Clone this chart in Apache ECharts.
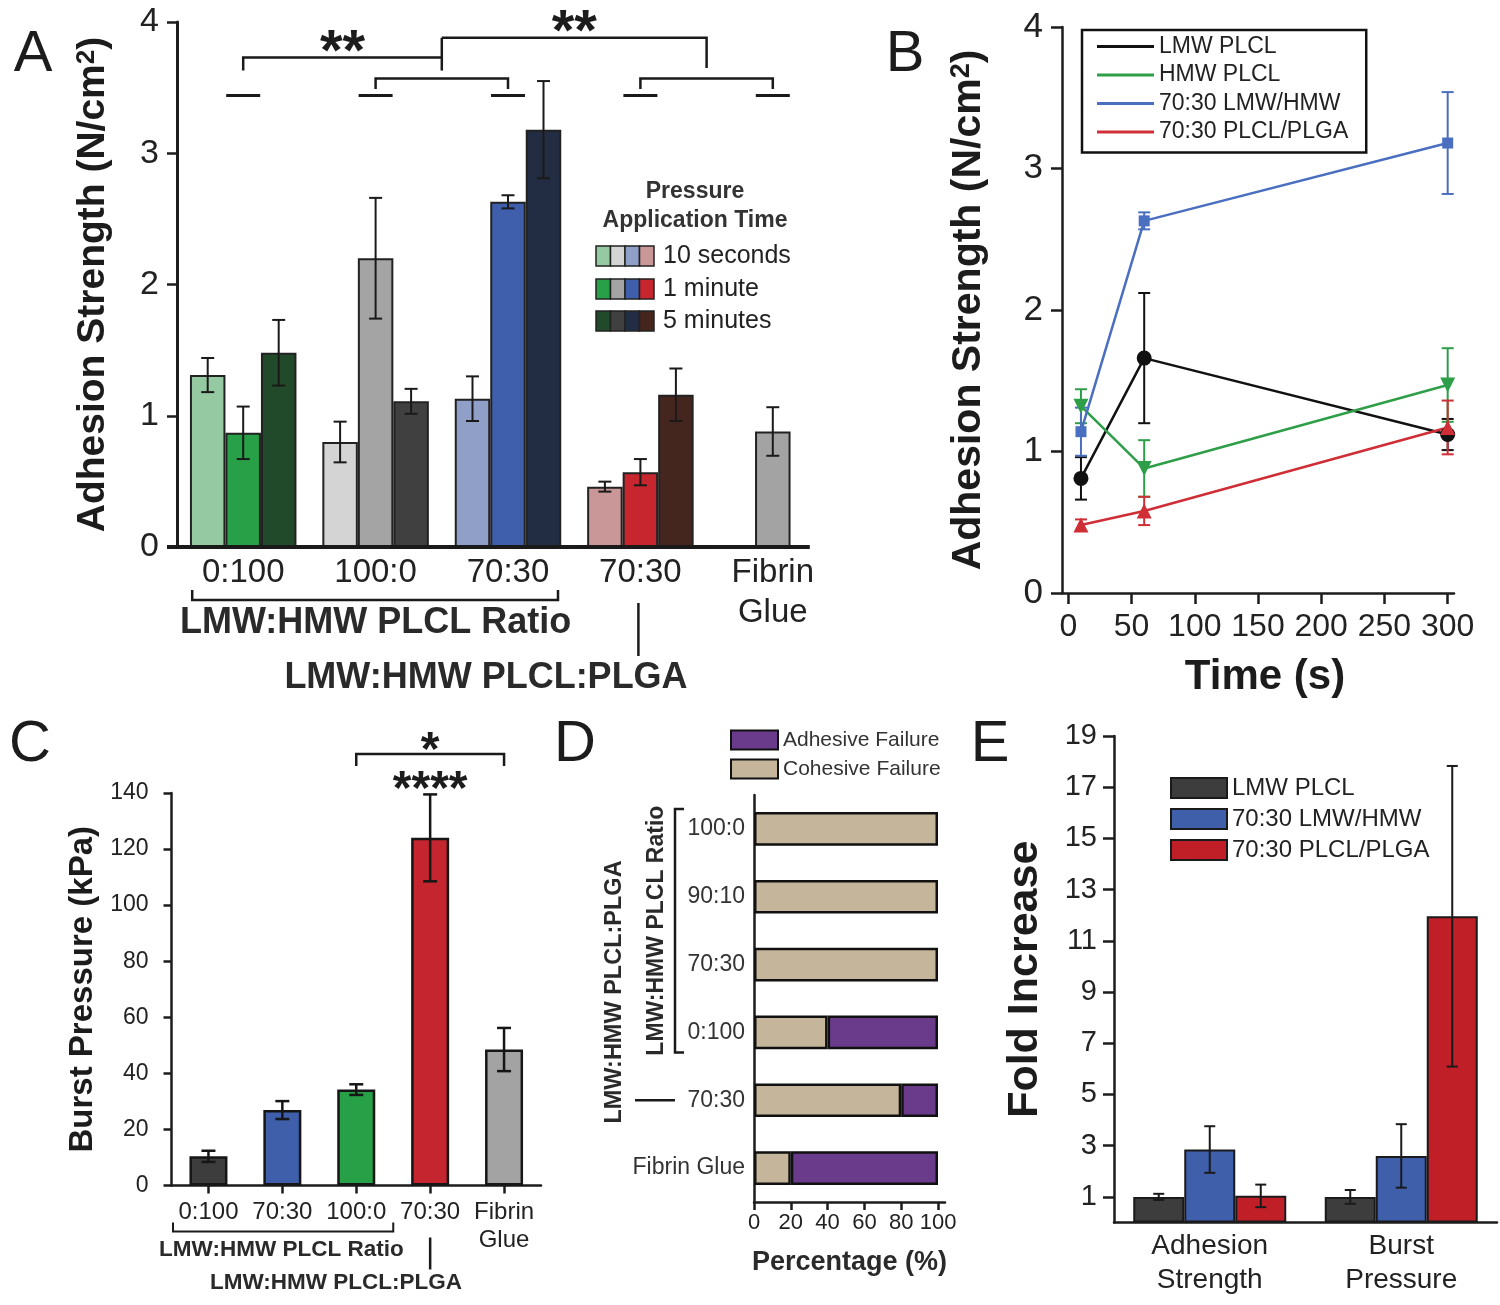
<!DOCTYPE html>
<html><head><meta charset="utf-8">
<script src="https://cdn.jsdelivr.net/npm/echarts@6/dist/echarts.min.js"></script>
<style>html,body{margin:0;padding:0;background:#fff}#c{width:1500px;height:1305px}</style>
</head><body><div id="c"></div>
<script>
// ---------------- DATA ----------------
// Panel A: adhesion strength (N/cm2) by LMW:HMW ratio and pressure application time
const aCategories = ['0:100', '100:0', '70:30', '70:30', 'Fibrin\nGlue'];
const aTimeNames = ['10 seconds', '1 minute', '5 minutes'];
const a10s = [1.31, 0.80, 1.13, 0.46, null];
const a10sErr = [0.13, 0.155, 0.17, 0.038, null];
const a1min = [0.87, 2.20, 2.63, 0.57, 0.88];
const a1minErr = [0.20, 0.46, 0.05, 0.10, 0.185];
const a5min = [1.48, 1.11, 3.18, 1.16, null];
const a5minErr = [0.25, 0.095, 0.37, 0.20, null];
const aYTicks = [0, 1, 2, 3, 4];

// Panel B: adhesion strength vs time
const bTimes = [10, 60, 300];
const bNames = ['LMW PLCL', 'HMW PLCL', '70:30 LMW/HMW', '70:30 PLCL/PLGA'];
const bLMW = [0.81, 1.66, 1.12];
const bLMWErr = [0.15, 0.46, 0.11];
const bHMW = [1.32, 0.88, 1.47];
const bHMWErr = [0.12, 0.20, 0.26];
const bBlend = [1.14, 2.63, 3.18];
const bBlendErr = [0.17, 0.06, 0.36];
const bPLGA = [0.48, 0.58, 1.17];
const bPLGAErr = [0.04, 0.10, 0.19];
const bXTicks = [0, 50, 100, 150, 200, 250, 300];

// Panel C: burst pressure (kPa)
const cCategories = ['0:100', '70:30', '100:0', '70:30', 'Fibrin\nGlue'];
const cValues = [10.4, 26.9, 34.2, 124.0, 48.5];
const cErr = [2.0, 3.2, 1.9, 15.5, 7.7];

// Panel D: failure mode (%)
const dCategories = ['100:0', '90:10', '70:30', '0:100', '70:30', 'Fibrin Glue'];
const dNames = ['Adhesive Failure', 'Cohesive Failure'];
const dCohesive = [100, 100, 100, 40, 80, 20];
const dAdhesive = [0, 0, 0, 60, 20, 80];
const dXTicks = [0, 20, 40, 60, 80, 100];

// Panel E: fold increase
const eCategories = ['Adhesion\nStrength', 'Burst\nPressure'];
const eNames = ['LMW PLCL', '70:30 LMW/HMW', '70:30 PLCL/PLGA'];
const eLMW = [1.0, 1.0];
const eLMWErr = [0.12, 0.27];
const eBlend = [2.85, 2.60];
const eBlendErr = [0.91, 1.24];
const ePLGA = [1.04, 11.96];
const ePLGAErr = [0.44, 5.87];
const eYTicks = [1, 3, 5, 7, 9, 11, 13, 15, 17, 19];

// ---------------- STYLE ----------------
const FONT = '"Liberation Sans", Arial, Helvetica, sans-serif';
const INK = '#1c1c1c';
const aColors10s = ['#94c9a1', '#d4d4d4', '#8f9fc7', '#c99797', null];
const aColors1min = ['#27a048', '#a4a4a4', '#3f5fac', '#c8262f', '#a3a3a3'];
const aColors5min = ['#204a29', '#404040', '#222d43', '#45261f', null];
const bColors = ['#111111', '#2e9e48', '#4a6ec0', '#cf2e36'];
const cColors = ['#3d3d3d', '#3f5fab', '#27a048', '#c5252e', '#a3a3a3'];
const dColors = {adh: '#6a3b8a', coh: '#c5b69b'};
const eColors = ['#3d3d3d', '#3f5fab', '#c01f28'];

const gA = {left: 177, top: 22, width: 662, height: 525};
const gB = {left: 1062, top: 27, width: 392, height: 566};
const gC = {left: 171.5, top: 793, width: 369.5, height: 392.5};
const gD = {left: 754, top: 795, width: 191, height: 407};
const gE = {left: 1114, top: 736, width: 383, height: 486.5};

const chart = echarts.init(document.getElementById('c'), null, {renderer: 'canvas', width: 1500, height: 1305});

function grid(g) { return Object.assign({outerBoundsMode: 'none', containLabel: false, show: false}, g); }
function aLine(w) { return {show: true, onZero: false, lineStyle: {color: INK, width: w}}; }
function txt(size, extra) { return Object.assign({fontFamily: FONT, fontSize: size, color: INK}, extra || {}); }
function supName(size) {
  return txt(size, {fontWeight: 'bold', rich: {
    m: {fontFamily: FONT, fontSize: size, fontWeight: 'bold', color: INK},
    s: {fontFamily: FONT, fontSize: Math.round(size * 0.66), fontWeight: 'bold', color: INK, verticalAlign: 'top'}
  }});
}

function errData(vals, errs, xs) {
  const out = [];
  vals.forEach((v, i) => { if (v != null) out.push([xs ? xs[i] : i, v, errs[i]]); });
  return out;
}
function errSeries(xi, yi, data, offset, cap, color, lw, z) {
  return {
    type: 'custom', xAxisIndex: xi, yAxisIndex: yi, z: z, silent: true, data: data,
    encode: {x: 0, y: 1},
    renderItem: function (params, api) {
      const x = api.value(0), v = api.value(1), e = api.value(2);
      const hi = api.coord([x, v + e]), lo = api.coord([x, v - e]);
      const cx = hi[0] + offset;
      const st = {stroke: color, lineWidth: lw};
      return {type: 'group', children: [
        {type: 'line', shape: {x1: cx, y1: hi[1], x2: cx, y2: lo[1]}, style: st},
        {type: 'line', shape: {x1: cx - cap, y1: hi[1], x2: cx + cap, y2: hi[1]}, style: st},
        {type: 'line', shape: {x1: cx - cap, y1: lo[1], x2: cx + cap, y2: lo[1]}, style: st}
      ]};
    }
  };
}
function coloredBars(vals, colors) {
  return vals.map((v, i) => v == null ? '-' : {value: v, itemStyle: {color: colors[i]}});
}

const aBarW = 35.5, eBarW = 51;
const series = [];

// ----- Panel A bars -----
[[a10s, aColors10s, a10sErr], [a1min, aColors1min, a1minErr], [a5min, aColors5min, a5minErr]].forEach((s, k) => {
  series.push({type: 'bar', name: aTimeNames[k], xAxisIndex: 0, yAxisIndex: 0,
    data: coloredBars(s[0], s[1]), barWidth: aBarW, barGap: '0%',
    itemStyle: {borderColor: '#222', borderWidth: 2}, z: 2});
  series.push(errSeries(0, 0, errData(s[0], s[2]), (k - 1) * aBarW, 6.5, '#1a1a1a', 2, 4));
});

// ----- Panel B lines -----
const bSets = [[bLMW, bLMWErr, 'circle', 15, 0], [bHMW, bHMWErr, 'triangle', 15, 180],
               [bBlend, bBlendErr, 'rect', 11, 0], [bPLGA, bPLGAErr, 'triangle', 15, 0]];
bSets.forEach((s, k) => {
  series.push(errSeries(1, 1, errData(s[0], s[1], bTimes), 0, 6, bColors[k], 2, 2));
  series.push({type: 'line', name: bNames[k], xAxisIndex: 1, yAxisIndex: 1,
    data: bTimes.map((t, i) => [t, s[0][i]]), symbol: s[2], symbolSize: s[3], symbolRotate: s[4],
    showSymbol: true, lineStyle: {color: bColors[k], width: 2.5},
    itemStyle: {color: bColors[k], borderWidth: 0}, z: 3});
});

// ----- Panel C bars -----
series.push({type: 'bar', name: 'Burst Pressure', xAxisIndex: 2, yAxisIndex: 2,
  data: coloredBars(cValues, cColors), barWidth: 38,
  itemStyle: {borderColor: '#161616', borderWidth: 2.5}, z: 2});
series.push(errSeries(2, 2, errData(cValues, cErr), 0, 7, '#161616', 2.5, 4));

// ----- Panel D stacked bars -----
series.push({type: 'bar', name: dNames[1], xAxisIndex: 3, yAxisIndex: 3, stack: 'd',
  data: dCohesive.map(v => v > 0 ? v : '-'), barWidth: 33.6,
  itemStyle: {color: dColors.coh, borderColor: '#111', borderWidth: 2.5}, z: 2});
series.push({type: 'bar', name: dNames[0], xAxisIndex: 3, yAxisIndex: 3, stack: 'd',
  data: dAdhesive.map(v => v > 0 ? v : '-'), barWidth: 33.6,
  itemStyle: {color: dColors.adh, borderColor: '#111', borderWidth: 2.5}, z: 2});

// ----- Panel E bars -----
[[eLMW, eLMWErr], [eBlend, eBlendErr], [ePLGA, ePLGAErr]].forEach((s, k) => {
  series.push({type: 'bar', name: eNames[k], xAxisIndex: 4, yAxisIndex: 4, data: s[0],
    barWidth: eBarW, barGap: '0%', itemStyle: {color: eColors[k], borderColor: '#1a1a1a', borderWidth: 2}, z: 2});
  series.push(errSeries(4, 4, errData(s[0], s[1]), (k - 1) * eBarW, 5.5, '#1a1a1a', 2, 4));
});

const yName = '{m|Adhesion Strength (N/cm}{s|2}{m|)}';

const option = {
  animation: false,
  backgroundColor: '#ffffff',
  textStyle: {fontFamily: FONT},
  grid: [grid(gA), grid(gB), grid(gC), grid(gD), grid(gE)],
  xAxis: [
    {gridIndex: 0, type: 'category', data: aCategories, axisLine: {show: false},
     axisTick: {show: false}, splitLine: {show: false},
     axisLabel: txt(33, {margin: 6, lineHeight: 40, color: '#222', interval: 0})},
    {gridIndex: 1, type: 'value', min: -5, max: 305, axisLine: aLine(2.5), splitLine: {show: false},
     axisTick: {show: true, length: 11, lineStyle: {color: INK, width: 2.5}, customValues: bXTicks},
     axisLabel: txt(32, {margin: 18, customValues: bXTicks, color: '#222'}),
     name: 'Time (s)', nameLocation: 'middle', nameGap: 63, nameMoveOverlap: false,
     nameTextStyle: txt(42, {fontWeight: 'bold', padding: [0, 0, 0, 14]})},
    {gridIndex: 2, type: 'category', data: cCategories, axisLine: aLine(2.5), splitLine: {show: false},
     axisTick: {show: true, alignWithLabel: true, length: 8, lineStyle: {color: INK, width: 2.5}},
     axisLabel: txt(24, {margin: 13, lineHeight: 28, color: '#222', interval: 0})},
    {gridIndex: 3, type: 'value', min: 0, max: 103.8, axisLine: aLine(2.5), splitLine: {show: false},
     axisTick: {show: true, length: 8, lineStyle: {color: INK, width: 2.5}, customValues: dXTicks},
     axisLabel: txt(22, {margin: 10, customValues: dXTicks, color: '#222'}),
     name: 'Percentage (%)', nameLocation: 'middle', nameGap: 47, nameMoveOverlap: false,
     nameTextStyle: txt(27, {fontWeight: 'bold', color: '#2a2a2a'})},
    {gridIndex: 4, type: 'category', data: eCategories, axisLine: aLine(2.5), splitLine: {show: false},
     axisTick: {show: false},
     axisLabel: txt(28, {margin: 7, lineHeight: 34, color: '#222', interval: 0})}
  ],
  yAxis: [
    {gridIndex: 0, type: 'value', min: 0, max: 4, interval: 1, axisLine: aLine(3), splitLine: {show: false},
     axisTick: {show: true, length: 10, lineStyle: {color: INK, width: 2.5}},
     axisLabel: txt(34, {margin: 18, color: '#222'}),
     name: yName, nameLocation: 'middle', nameGap: 64, nameMoveOverlap: false,
     nameTextStyle: supName(39)},
    {gridIndex: 1, type: 'value', min: 0, max: 4, interval: 1, axisLine: aLine(2.5), splitLine: {show: false},
     axisTick: {show: true, length: 11, lineStyle: {color: INK, width: 2.5}},
     axisLabel: txt(35, {margin: 19, color: '#222'}),
     name: yName, nameLocation: 'middle', nameGap: 73, nameMoveOverlap: false,
     nameTextStyle: supName(41)},
    {gridIndex: 2, type: 'value', min: 0, max: 140, interval: 20, axisLine: aLine(2.5), splitLine: {show: false},
     axisTick: {show: true, length: 8, lineStyle: {color: INK, width: 2.5}},
     axisLabel: txt(23, {margin: 23, color: '#222'}),
     name: 'Burst Pressure (kPa)', nameLocation: 'middle', nameGap: 72, nameMoveOverlap: false,
     nameTextStyle: txt(33, {fontWeight: 'bold'})},
    {gridIndex: 3, type: 'category', data: dCategories, inverse: true, axisLine: aLine(2.5),
     splitLine: {show: false}, axisTick: {show: false},
     axisLabel: txt(23, {margin: 9, color: '#333', interval: 0})},
    {gridIndex: 4, type: 'value', min: 0, max: 19, axisLine: aLine(2.5), splitLine: {show: false},
     axisTick: {show: true, length: 11, lineStyle: {color: INK, width: 2.5}, customValues: eYTicks},
     axisLabel: txt(29, {margin: 17, customValues: eYTicks, color: '#222'}),
     name: 'Fold Increase', nameLocation: 'middle', nameGap: 67, nameMoveOverlap: false,
     nameTextStyle: txt(43, {fontWeight: 'bold'})}
  ],
  legend: [
    {data: bNames.map((n, i) => ({name: n, icon: 'rect', itemStyle: {color: bColors[i], borderWidth: 0}})),
     orient: 'vertical', left: 1082, top: 30, itemWidth: 57, itemHeight: 3, itemGap: 5.5,
     padding: [5, 18, 9, 15], borderColor: '#111', borderWidth: 2.5, borderRadius: 0,
     backgroundColor: '#fff', selectedMode: false, textStyle: txt(23, {color: '#222'})},
    {data: dNames.map((n, i) => ({name: n, icon: 'rect',
       itemStyle: {color: i === 0 ? dColors.adh : dColors.coh, borderColor: '#111', borderWidth: 2}})),
     orient: 'vertical', left: 730, top: 729.5, itemWidth: 47, itemHeight: 19, itemGap: 8,
     padding: 0, selectedMode: false, textStyle: txt(21, {color: '#333'})},
    {data: eNames.map((n, i) => ({name: n, icon: 'rect',
       itemStyle: {color: eColors[i], borderColor: '#1a1a1a', borderWidth: 2}})),
     orient: 'vertical', left: 1170, top: 776, itemWidth: 56, itemHeight: 20, itemGap: 7,
     padding: 0, selectedMode: false, textStyle: txt(24, {color: '#222'})}
  ],
  series: series
};
chart.setOption(option);

// ---------------- ANNOTATIONS (positioned through the axes) ----------------
const P = (xi, yi, pt) => chart.convertToPixel({xAxisIndex: xi, yAxisIndex: yi}, pt);
const G = [];
const LS = {stroke: '#1a1a1a', lineWidth: 2.5, fill: null};
function poly(pts, lw) { G.push({type: 'polyline', shape: {points: pts}, style: Object.assign({}, LS, lw ? {lineWidth: lw} : {}), z: 50}); }
function text(x, y, s, size, opts) {
  opts = opts || {};
  G.push({type: 'text', x: x, y: y, rotation: opts.rot || 0, z: 50,
    style: {text: s, fontFamily: FONT, fontSize: size, fontWeight: opts.bold ? 'bold' : 'normal',
      fill: opts.color || INK, textAlign: opts.align || 'center', textVerticalAlign: 'middle',
      align: opts.align || 'center', verticalAlign: 'middle'}});
}

// Panel letters
text(33, 55, 'A', 58); text(905, 55, 'B', 58); text(30, 745, 'C', 58); text(575, 745, 'D', 58); text(990, 745, 'E', 58);

// Panel A axis line, significance and group labels
const aC = aCategories.map((_, i) => P(0, 0, [i, 0])[0]);
const yA = v => P(0, 0, [0, v])[1];
poly([[gA.left - 10, yA(0)], [aC[4] + 37, yA(0)]], 4);
aC.forEach(cx => poly([[cx - 17, yA(3.44)], [cx + 17, yA(3.44)]], 3));
const m1 = (aC[1] + aC[2]) / 2, m2 = (aC[3] + aC[4]) / 2;
poly([[aC[0], yA(3.63)], [aC[0], yA(3.73)], [m1, yA(3.73)]]);
poly([[m1, yA(3.88)], [m1, yA(3.63)]]);
poly([[aC[1], yA(3.49)], [aC[1], yA(3.57)], [aC[2], yA(3.57)], [aC[2], yA(3.49)]]);
poly([[m1, yA(3.88)], [m2, yA(3.88)], [m2, yA(3.65)]]);
poly([[aC[3], yA(3.49)], [aC[3], yA(3.57)], [aC[4], yA(3.57)], [aC[4], yA(3.49)]]);
text((aC[0] + m1) / 2, yA(3.85) + 12, '**', 58, {bold: true});
text((m1 + m2) / 2, yA(4.0) + 12, '**', 58, {bold: true});
const aBase = yA(0);
poly([[aC[0] - 51, aBase + 43], [aC[0] - 51, aBase + 53], [aC[2] + 50, aBase + 53], [aC[2] + 50, aBase + 43]]);
text((aC[0] + aC[2]) / 2, aBase + 76, 'LMW:HMW PLCL Ratio', 36, {bold: true, color: '#2a2a2a'});
poly([[aC[3] - 2, aBase + 56], [aC[3] - 2, aBase + 109]]);
text(486, aBase + 131, 'LMW:HMW PLCL:PLGA', 36, {bold: true, color: '#2a2a2a'});

// Panel A legend (pressure application time)
text(695, 192, 'Pressure', 23, {bold: true, color: '#333'});
text(695, 221, 'Application Time', 23, {bold: true, color: '#333'});
const legRows = [[aColors10s, 256], [aColors1min, 289], [aColors5min, 321]];
legRows.forEach((r, k) => {
  for (let j = 0; j < 4; j++) {
    G.push({type: 'rect', shape: {x: 596 + j * 14.5, y: r[1] - 10, width: 14.5, height: 20},
      style: {fill: r[0][j], stroke: '#222', lineWidth: 1.5}, z: 50});
  }
  text(663, r[1], aTimeNames[k], 25, {align: 'left', color: '#222'});
});

// Panel C annotations
const cC = cCategories.map((_, i) => P(2, 2, [i, 0])[0]);
const cBase = P(2, 2, [0, 0])[1];
poly([[cC[2], 766], [cC[2], 754], [cC[4], 754], [cC[4], 766]]);
text(cC[3], 752, '*', 48, {bold: true});
text(cC[3], 791, '****', 48, {bold: true});
poly([[gC.left + 1.5, cBase + 37], [gC.left + 1.5, cBase + 46], [cC[2] + 37, cBase + 46], [cC[2] + 37, cBase + 37]], 2);
text((gC.left + cC[2] + 37) / 2 - 1, cBase + 64, 'LMW:HMW PLCL Ratio', 22.5, {bold: true, color: '#2a2a2a'});
poly([[cC[3], cBase + 52], [cC[3], cBase + 84]], 2.5);
text(336, cBase + 97, 'LMW:HMW PLCL:PLGA', 22.5, {bold: true, color: '#2a2a2a'});

// Panel D annotations
const dY = dCategories.map((_, i) => P(3, 3, [0, i])[1]);
poly([[684, dY[0] - 20], [675, dY[0] - 20], [675, dY[3] + 20], [684, dY[3] + 20]], 2.5);
text(657, (dY[0] + dY[3]) / 2, 'LMW:HMW PLCL Ratio', 23, {bold: true, rot: Math.PI / 2, color: '#2a2a2a'});
text(615, 992, 'LMW:HMW PLCL:PLGA', 23.5, {bold: true, rot: Math.PI / 2, color: '#2a2a2a'});
poly([[635, dY[4]], [675, dY[4]]], 2.5);

chart.setOption({graphic: {elements: G}});
</script></body></html>
